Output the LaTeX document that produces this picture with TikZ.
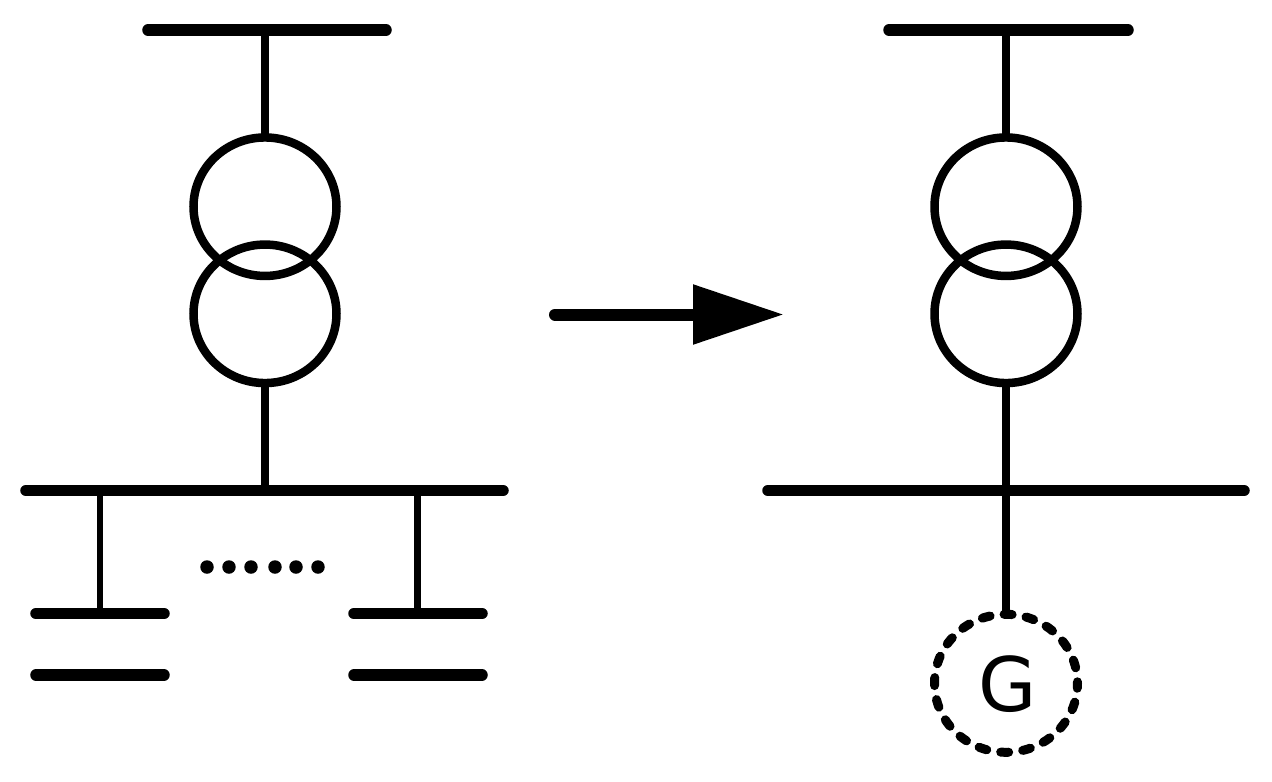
\documentclass[tikz,border=0pt]{standalone}
\usepackage{fontspec}
\setmainfont{DejaVu Sans}
\usetikzlibrary{arrows.meta,shapes.geometric}
\tikzset{
  winding/.style={draw,ellipse,line width=0.085cm,minimum width=1.43cm,minimum height=1.385cm,inner sep=0pt,outer sep=0pt},
  busbar/.style={line width=0.115cm,line cap=round},
  mainbus/.style={line width=0.115cm,line cap=round},
  stem/.style={line width=0.075cm},
  gen/.style={draw,ellipse,line width=0.09cm,line cap=round,minimum width=1.43cm,minimum height=1.38cm,inner sep=0pt,outer sep=0pt,
    dash pattern=on 0.08cm off 0.1415cm,dash phase=0.065cm},
  gentext/.style={inner sep=0pt,font=\fontsize{21.4pt}{24pt}\selectfont},
  dotmark/.style={fill,circle,minimum size=0.135cm,inner sep=0pt,outer sep=0pt}
}
\begin{document}
\begin{tikzpicture}
      \useasboundingbox (0,0) rectangle (12.72,7.81);
      \draw
        (2.65,5.743) node[winding] (t1up){}
        (2.65,4.672) node[winding] (t1low){}
        (10.06,5.743) node[winding] (t2up){}
        (10.06,4.672) node[winding] (t2low){}
        (10.06,0.977) node[gen] (g){}
        (10.08,0.97) node[gentext] (gname){G};
      \draw
        (1.48,7.51) coordinate (a1)
        (2.65,7.51) coordinate (a2)
        (3.86,7.51) coordinate (a3)
        (8.89,7.51) coordinate (b1)
        (10.06,7.51) coordinate (b2)
        (11.28,7.51) coordinate (b3)
        (0.26,2.905) coordinate (c1)
        (1.00,2.905) coordinate (c2)
        (2.65,2.905) coordinate (c3)
        (4.175,2.905) coordinate (c4)
        (5.03,2.905) coordinate (c5)
        (7.68,2.905) coordinate (d1)
        (10.06,2.905) coordinate (d2)
        (12.44,2.905) coordinate (d3)
        (0.36,1.675) coordinate (e1)
        (1.00,1.675) coordinate (e2)
        (1.64,1.675) coordinate (e3)
        (3.54,1.675) coordinate (e4)
        (4.175,1.675) coordinate (e5)
        (4.82,1.675) coordinate (e6)
        (0.36,1.06) coordinate (f1)
        (1.64,1.06) coordinate (f2)
        (3.54,1.06) coordinate (f3)
        (4.82,1.06) coordinate (f4)
        (5.55,4.665) coordinate (s)
        (7.84,4.665) coordinate (s2);
      % buses
      \begin{scope}[busbar]
        \draw (a1) to (a3);
        \draw (b1) to (b3);
        \draw (e1) to (e3);
        \draw (e4) to (e6);
        \draw (f1) to (f2);
        \draw (f3) to (f4);
      \end{scope}
      \begin{scope}[mainbus]
        \draw (c1) to (c5);
        \draw (d1) to (d3);
      \end{scope}
      \begin{scope}[stem]
        \draw (a2) to (t1up);
        \draw (t1low) to (c3);
        \draw (b2) to (t2up);
        \draw (t2low) to (d2);
        \draw (d2) to (g);
        \draw[line width=0.065cm] (c2) to (e2);
        \draw[line width=0.065cm] (c4) to (e5);
      \end{scope}
      \foreach \i/\x in {1/2.07,2/2.29,3/2.51,4/2.75,5/2.96,6/3.18}
        \node[dotmark] (p\i) at (\x,2.14) {};
      \draw[line width=0.12cm,line cap=round,-{Triangle[length=0.91cm,width=0.57cm]}] (s) to (s2);
    \end{tikzpicture}
\end{document}
